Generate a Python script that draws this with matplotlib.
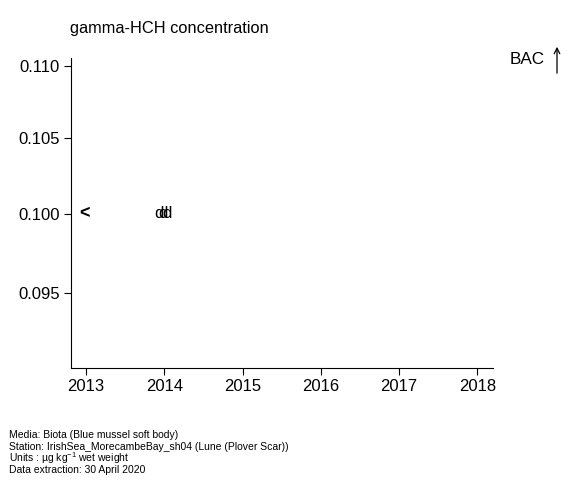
import matplotlib
matplotlib.use("Agg")
import matplotlib.pyplot as plt

plt.rcParams["font.family"] = ["Liberation Sans", "DejaVu Sans"]
plt.rcParams["mathtext.fontset"] = "custom"
plt.rcParams["mathtext.rm"] = "Liberation Sans"

# data
less_years = [2013.0]
less_values = [0.100]
d_years = [2013.93, 2013.98, 2014.03]
d_values = [0.100, 0.100, 0.100]

year_ticks = [2013, 2014, 2015, 2016, 2017, 2018]
conc_ticks = [0.095, 0.100, 0.105, 0.110]
conc_labels = ["0.095", "0.100", "0.105", "0.110"]

fig = plt.figure(figsize=(5.8, 4.8), dpi=100)
ax = fig.add_axes([70.7 / 580, 1 - 368 / 480, (493.3 - 70.7) / 580, (368 - 58.3) / 480])

ax.set_yscale("log")
ax.set_xlim(2012.805, 2018.204)
ax.set_ylim(0.0905, 0.11055)

for x, y in zip(less_years, less_values):
    ax.text(x - 0.02, y, "<", ha="center", va="center", fontsize=13, fontweight="bold")
for x, y in zip(d_years, d_values):
    ax.text(x, y, "d", ha="center", va="center", fontsize=12)

ax.set_xticks(year_ticks)
ax.set_xticklabels([str(y) for y in year_ticks])
ax.set_yticks(conc_ticks)
ax.set_yticklabels(conc_labels)
ax.yaxis.set_minor_locator(matplotlib.ticker.NullLocator())
ax.yaxis.set_minor_formatter(matplotlib.ticker.NullFormatter())
ax.tick_params(labelsize=12, length=5, width=0.8, pad=3)
for side in ("top", "right"):
    ax.spines[side].set_visible(False)

fig.text(70 / 580, 1 - 28 / 480, "gamma-HCH concentration", fontsize=11.8, va="center", ha="left")
fig.text(545 / 580, 1 - 60 / 480, "BAC", fontsize=12.3, va="center", ha="right")
fig.add_artist(matplotlib.patches.FancyArrowPatch(
    (557 / 580, 1 - 76 / 480), (557 / 580, 1 - 44 / 480),
    transform=fig.transFigure, arrowstyle="->", mutation_scale=10, lw=0.9, color="black"))

foot = ["Media: Biota (Blue mussel soft body)",
        "Station: IrishSea_MorecambeBay_sh04 (Lune (Plover Scar))",
        "Units : µg kg$^{-1}$ wet weight",
        "Data extraction: 30 April 2020"]
for i, line in enumerate(foot):
    fig.text(9 / 580, 1 - (435 + i * 11.6) / 480, line, fontsize=7.5, va="center", ha="left")

fig.savefig("out.png", dpi=100)
